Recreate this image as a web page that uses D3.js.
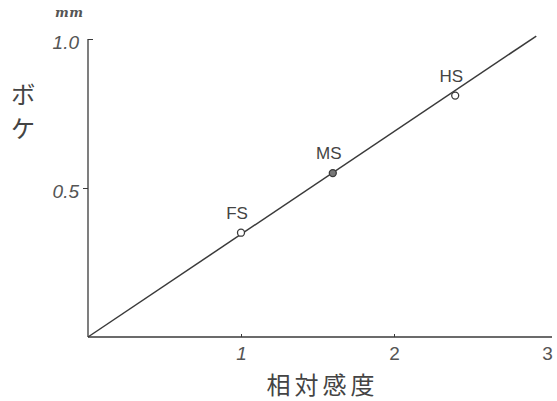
<!DOCTYPE html>
<html>
<head>
<meta charset="utf-8">
<script src="https://cdn.jsdelivr.net/npm/d3@7"></script>
<style>
  body { margin: 0; background: #fff; }
  svg { display: block; }
</style>
</head>
<body>
<svg id="chart"></svg>
<script>
// data
const films = ['FS', 'MS', 'HS'];
const sensitivity = [1.0, 1.6, 2.4];
const blur = [0.35, 0.55, 0.81];
const filled = [false, true, false];
const fitX = [0, 2.93];
const fitY = [0, 1.01];
const xTicks = [1, 2, 3];
const yTicks = [0.5, 1.0];

const width = 557, height = 401;
const ink = '#3a3a3a';

const svg = d3.select('#chart')
    .attr('width', width)
    .attr('height', height);

// scales
const xScale = d3.scaleLinear().domain([0, 3]).range([88, 547]);
const yScale = d3.scaleLinear().domain([0, 1]).range([337, 39]);

// x axis
const xAxis = svg.append('g')
    .attr('transform', `translate(0, ${yScale(0)})`)
    .call(d3.axisBottom(xScale).tickValues(xTicks).tickSize(-3).tickSizeOuter(0)
        .tickFormat(d3.format('d')));
xAxis.select('.domain').remove();
xAxis.append('line')
    .attr('x1', xScale(0)).attr('x2', xScale(3) + 5)
    .attr('stroke', ink).attr('stroke-width', 1.3);
xAxis.selectAll('.tick line').attr('stroke', ink).attr('stroke-width', 1)
    .attr('display', d => d === 3 ? 'none' : null);
xAxis.selectAll('.tick text')
    .attr('y', 10)
    .attr('font-family', 'Liberation Sans, sans-serif')
    .attr('font-size', 19)
    .attr('font-style', d => d === 1 ? 'italic' : 'normal')
    .attr('fill', '#555');

// y axis
const yAxis = svg.append('g')
    .attr('transform', `translate(${xScale(0)}, 0)`)
    .call(d3.axisLeft(yScale).tickValues(yTicks).tickSize(5).tickSizeOuter(0)
        .tickFormat(d3.format('.1f')));
yAxis.select('.domain').remove();
yAxis.append('line')
    .attr('y1', yScale(0)).attr('y2', yScale(1))
    .attr('stroke', ink).attr('stroke-width', 1.3);
yAxis.selectAll('.tick line').attr('stroke', ink).attr('stroke-width', 1)
    .attr('x2', d => d === 1 ? 5 : -5);
yAxis.selectAll('.tick text')
    .attr('x', -9)
    .attr('dy', '0.5em')
    .attr('font-family', 'Liberation Sans, sans-serif')
    .attr('font-size', 19)
    .attr('font-style', 'italic')
    .attr('fill', '#555');

// unit
svg.append('text')
    .attr('x', xScale(0) - 33)
    .attr('y', yScale(1) - 22)
    .attr('font-family', 'DejaVu Serif, serif')
    .attr('font-style', 'italic')
    .attr('font-weight', 'bold')
    .attr('font-size', 13)
    .attr('letter-spacing', 0.5)
    .attr('fill', '#555')
    .text('mm');

// fitted line
svg.append('line')
    .attr('x1', xScale(fitX[0])).attr('y1', yScale(fitY[0]))
    .attr('x2', xScale(fitX[1])).attr('y2', yScale(fitY[1]))
    .attr('stroke', ink)
    .attr('stroke-width', 1.5);

// points
films.forEach((name, i) => {
    const cx = xScale(sensitivity[i]);
    const cy = yScale(blur[i]);
    svg.append('circle')
        .attr('cx', cx).attr('cy', cy).attr('r', 3.5)
        .attr('fill', filled[i] ? '#777' : '#fff')
        .attr('stroke', ink).attr('stroke-width', 1.3);
    svg.append('text')
        .attr('x', cx - 4)
        .attr('y', cy - 14)
        .attr('text-anchor', 'middle')
        .attr('font-family', 'Liberation Sans, sans-serif')
        .attr('font-size', 17)
        .attr('fill', '#444')
        .text(name);
});

// axis titles
svg.append('text')
    .attr('x', (xScale(0) + xScale(3)) / 2 + 5)
    .attr('y', 394)
    .attr('text-anchor', 'middle')
    .attr('font-family', 'Noto Sans CJK JP, sans-serif')
    .attr('font-size', 24)
    .attr('letter-spacing', 4)
    .attr('fill', '#444')
    .text('相対感度');

svg.append('text')
    .attr('x', 23)
    .attr('y', 82)
    .attr('writing-mode', 'vertical-rl')
    .attr('font-family', 'Noto Sans CJK JP, sans-serif')
    .attr('font-size', 25)
    .attr('letter-spacing', 9)
    .attr('fill', '#444')
    .text('ボケ');
</script>
</body>
</html>
